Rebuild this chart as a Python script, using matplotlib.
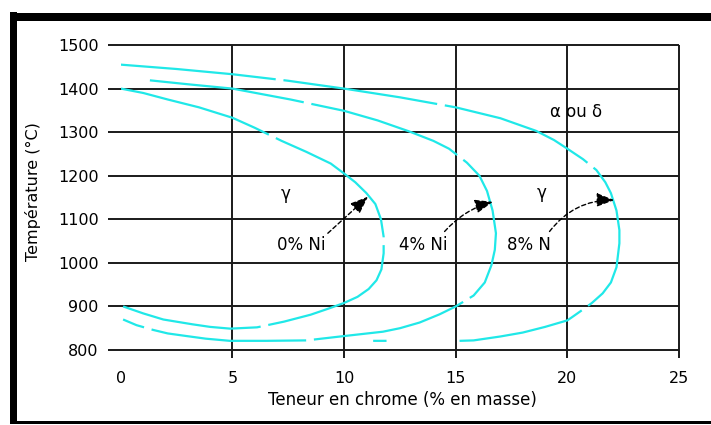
import matplotlib.pyplot as plt
from matplotlib.patches import Rectangle
import numpy as np

nan = np.nan

# boucle gamma Fe-Cr pour 0, 4 et 8 % Ni (teneur en Cr en %, temperature en degC)
cr_0ni = [0, 1, 2.1, 3.5, 5, 6, 7.2, 8.3, 9.4, 10, 10.5, 11, 11.4, 11.65, 11.77,
          11.77, 11.67, 11.45, 11.1, 10.6, 10, 9.3, 8.5, 7.3, 6.1, 4.9, 4, 3.2,
          1.9, 1, 0.1]
t_0ni = [1400, 1390, 1375, 1357, 1333, 1310, 1280, 1255, 1228, 1205, 1185, 1160,
         1135, 1100, 1060, 1022, 985, 960, 940, 922, 908, 895, 881, 865, 852, 849,
         853, 859, 870, 884, 900]

cr_4ni = [1.3, 3, 5, 7.6, 10, 11.5, 12.9, 14, 14.7, 15.5, 16.06, 16.4, 16.65,
          16.8, 16.75, 16.6, 16.3, 15.8, 15, 14.28, 13.38, 12.5, 11.74, 10, 8.31,
          6.5, 4.88, 3.8, 2.94, 2.1, 1.45, 0.7, 0.1]
t_4ni = [1419, 1410, 1400, 1375, 1349, 1327, 1302, 1280, 1262, 1230, 1200, 1165,
         1120, 1068, 1030, 995, 955, 925, 900, 882, 863, 850, 842, 832, 822,
         821, 821, 826, 832, 838, 846, 857, 870]

cr_8ni = [0, 2.5, 5, 7.5, 10, 12.5, 15, 17, 18.6, 19.4, 20, 20.7, 21.3, 21.7,
          21.95, 22.2, 22.33, 22.33, 22.2, 21.95, 21.58, 21.1, 20.7, 20.2, 20,
          19, 18, 17, 15.8, 15.17, nan, 11.9, 11.3]
t_8ni = [1455, 1445, 1433, 1418, 1400, 1380, 1357, 1332, 1303, 1282, 1262, 1238,
         1213, 1185, 1160, 1120, 1075, 1045, 990, 955, 930, 908, 893, 875, 868,
         853, 840, 831, 822, 821, nan, 821, 821]

x_ticks = [0, 5, 10, 15, 20, 25]
y_ticks = [800, 900, 1000, 1100, 1200, 1300, 1400, 1500]

labels = ['0% Ni', '4% Ni', '8% N']
label_cr = [8.1, 13.56, 18.3]
label_t = [1041, 1041, 1041]
arrow_from = [(9.27, 1068), (14.5, 1072), (19.2, 1072)]
arrow_to = [(11.07, 1152), (16.66, 1140), (22.1, 1144)]
arrow_rad = [0.0, -0.15, -0.25]

cyan = '#20e8e8'
ink = '#1a1a1a'

fig = plt.figure(figsize=(7.11, 4.25), dpi=100)
ax = fig.add_axes([0.170, 0.1765, 0.785, 0.7175])
ax.set_xlim(0, 25)
ax.set_ylim(800, 1500)
for s in ax.spines.values():
    s.set_visible(False)

# quadrillage (debordant un peu comme des graduations)
ax.hlines(y_ticks, -0.58, 25, colors=ink, lw=1.4, clip_on=False, zorder=1)
ax.vlines(x_ticks[1:], 782, 1500, colors=ink, lw=1.4, clip_on=False, zorder=1)

ax.set_xticks(x_ticks)
ax.set_yticks(y_ticks)
ax.tick_params(axis='x', length=0, pad=15, labelsize=11.5)
ax.tick_params(axis='y', length=0, pad=16, labelsize=11.5)

ls = (0, (70, 3.5))
ax.plot(cr_0ni, t_0ni, color=cyan, lw=1.6, ls=ls, zorder=2)
ax.plot(cr_4ni, t_4ni, color=cyan, lw=1.6, ls=ls, zorder=2)
ax.plot(cr_8ni, t_8ni, color=cyan, lw=1.6, ls=ls, zorder=2)

for lab, x, y in zip(labels, label_cr, label_t):
    ax.text(x, y, lab, ha='center', va='center', fontsize=12)

for p0, p1, rad in zip(arrow_from, arrow_to, arrow_rad):
    ax.annotate('', xy=p1, xytext=p0,
                arrowprops=dict(arrowstyle='-|>,head_length=0.9,head_width=0.35',
                                color='black', lw=1.0, ls=(0, (3, 2)),
                                mutation_scale=12, shrinkA=0, shrinkB=0,
                                connectionstyle=f'arc3,rad={rad}'))

ax.text(7.4, 1157, 'γ', ha='center', va='center', fontsize=12)
ax.text(18.83, 1160, 'γ', ha='center', va='center', fontsize=12)
ax.text(19.2, 1347, 'α ou δ', ha='left', va='center', fontsize=12)

ax.set_xlabel('Teneur en chrome (% en masse)', fontsize=12)
ax.xaxis.set_label_coords(0.504, -0.134)
ax.set_ylabel('Température (°C)', fontsize=11.5)
ax.yaxis.set_label_coords(-0.143, 0.52)

# cadre noir epais autour de la figure
fig.add_artist(Rectangle((10 / 711, 1 / 425), 7 / 711, 412 / 425,
                         transform=fig.transFigure, color='black', lw=0))
fig.add_artist(Rectangle((10 / 711, 404 / 425), 701 / 711, 8 / 425,
                         transform=fig.transFigure, color='black', lw=0))
fig.add_artist(Rectangle((10 / 711, 1 / 425), 701 / 711, 3 / 425,
                         transform=fig.transFigure, color='black', lw=0))

fig.savefig('out.png', dpi=100)
plt.close('all')
